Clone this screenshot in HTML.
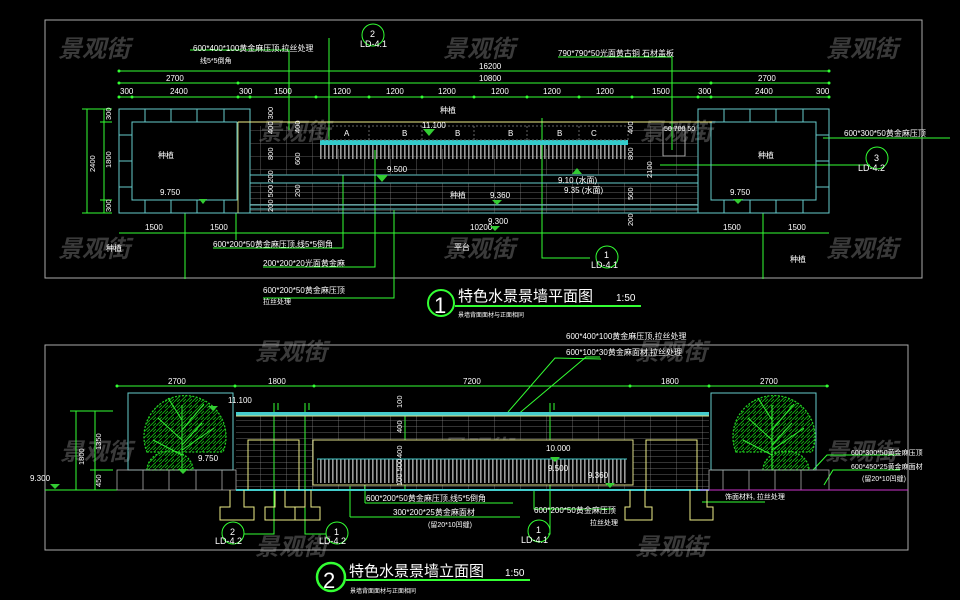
<!DOCTYPE html>
<html><head><meta charset="utf-8"><style>
html,body{margin:0;padding:0;background:#000;}
svg{display:block}
text{font-family:"Liberation Sans","Noto Sans CJK SC",sans-serif;}
</style></head><body>
<svg width="960" height="600" viewBox="0 0 960 600" xmlns="http://www.w3.org/2000/svg">
<defs>
<pattern id="gridA" x="0" y="0" width="26" height="13" patternUnits="userSpaceOnUse">
<path d="M0 0H26M0 0V13" stroke="#777" stroke-width="0.8" fill="none"/></pattern>
<pattern id="bars" x="0" y="0" width="4" height="20" patternUnits="userSpaceOnUse">
<rect x="0" y="0" width="1.6" height="20" fill="#999"/></pattern>
<pattern id="hstripes" x="0" y="0" width="26" height="6" patternUnits="userSpaceOnUse">
<path d="M0 0H26M0 0V6" stroke="#888" stroke-width="0.7" fill="none"/></pattern>
<pattern id="leaf" x="0" y="0" width="6" height="6" patternUnits="userSpaceOnUse">
<path d="M0 6L6 0M3 6L6 3" stroke="#1b1" stroke-width="0.8"/></pattern>
</defs>
<rect width="960" height="600" fill="#000"/>

<g fill="#3a3a3a" font-size="24" font-style="italic" font-weight="bold">
<text x="58" y="57">景观街</text><text x="443" y="57">景观街</text><text x="826" y="57">景观街</text>
<text x="58" y="257">景观街</text><text x="443" y="257">景观街</text><text x="826" y="257">景观街</text>
<text x="255" y="360">景观街</text><text x="635" y="360">景观街</text>
<text x="255" y="555">景观街</text><text x="635" y="555">景观街</text>
<text x="258" y="140">景观街</text><text x="640" y="140">景观街</text>
<text x="60" y="460">景观街</text><text x="825" y="460">景观街</text><text x="440" y="457">景观街</text>
</g>

<!-- ===== PLAN ===== -->
<rect x="45" y="20" width="877" height="258" fill="none" stroke="#aaa" stroke-width="1"/>
<g stroke="#3f3" stroke-width="1" fill="none">
<line x1="119" y1="71" x2="829" y2="71"/>
<line x1="119" y1="83" x2="829" y2="83"/>
<line x1="119" y1="97" x2="829" y2="97"/>
<line x1="119" y1="233" x2="829" y2="233"/>
<line x1="87" y1="109" x2="87" y2="213"/>
<line x1="104" y1="109" x2="104" y2="213"/>
<line x1="82" y1="109" x2="112" y2="109"/><line x1="82" y1="213" x2="112" y2="213"/>
<line x1="100" y1="122" x2="112" y2="122"/><line x1="100" y1="200" x2="112" y2="200"/>
<line x1="236" y1="213" x2="236" y2="240"/><line x1="185" y1="213" x2="185" y2="279"/>
<line x1="763" y1="213" x2="763" y2="279"/>
<polyline points="190,50 289,50 289,130"/>
<polyline points="329,38 329,140"/>
<polyline points="558,57 672,57 672,150"/>
<polyline points="213,248 343,248 343,175"/>
<polyline points="263,267 375,267 375,150"/>
<polyline points="263,298 394,298 394,210"/>
<polyline points="542,118 542,258 590,258"/>
<polyline points="823,138 950,138"/>
<polyline points="660,165 870,165"/>
</g>
<g fill="#3f3">
<circle cx="119" cy="71" r="1.5"/><circle cx="829" cy="71" r="1.5"/>
<circle cx="119" cy="83" r="1.5"/><circle cx="238" cy="83" r="1.5"/><circle cx="711" cy="83" r="1.5"/><circle cx="829" cy="83" r="1.5"/>
<circle cx="119" cy="97" r="1.5"/><circle cx="132" cy="97" r="1.5"/><circle cx="238" cy="97" r="1.5"/><circle cx="250" cy="97" r="1.5"/><circle cx="316" cy="97" r="1.5"/><circle cx="369" cy="97" r="1.5"/><circle cx="422" cy="97" r="1.5"/><circle cx="474" cy="97" r="1.5"/><circle cx="527" cy="97" r="1.5"/><circle cx="579" cy="97" r="1.5"/><circle cx="632" cy="97" r="1.5"/><circle cx="698" cy="97" r="1.5"/><circle cx="711" cy="97" r="1.5"/><circle cx="829" cy="97" r="1.5"/>
</g>
<g stroke="#6cc" stroke-width="1" fill="none">
<rect x="119" y="109" width="131" height="104"/><rect x="132" y="122" width="105" height="78"/>
<rect x="698" y="109" width="131" height="104"/><rect x="711" y="122" width="105" height="78"/>
<path d="M145 109V122M171 109V122M197 109V122M224 109V122M145 200V213M171 200V213M197 200V213M224 200V213M119 135H132M119 161H132M119 187H132"/>
<path d="M724 109V122M750 109V122M776 109V122M803 109V122M724 200V213M750 200V213M776 200V213M803 200V213M816 135H829M816 161H829M816 187H829"/>
<path d="M250 175H698M250 183H698M250 205H698M250 209H698M250 213H698"/>
</g>
<rect x="250" y="126" width="70" height="49" fill="url(#gridA)"/>
<rect x="628" y="126" width="70" height="49" fill="url(#gridA)"/>
<rect x="320" y="149" width="308" height="26" fill="url(#gridA)"/>
<rect x="250" y="183" width="448" height="30" fill="url(#hstripes)"/>
<line x1="238" y1="122" x2="712" y2="122" stroke="#ee8" stroke-width="1"/>
<line x1="238" y1="122" x2="238" y2="213" stroke="#ee8" stroke-width="0.8"/>
<rect x="320" y="140" width="308" height="5" fill="#3cc"/>
<rect x="320" y="145" width="308" height="14" fill="url(#bars)"/>
<rect x="320" y="126" width="308" height="14" fill="none" stroke="#666" stroke-dasharray="2,2"/>
<g stroke="#666" stroke-dasharray="2,2"><line x1="369" y1="126" x2="369" y2="140"/><line x1="422" y1="126" x2="422" y2="140"/><line x1="474" y1="126" x2="474" y2="140"/><line x1="527" y1="126" x2="527" y2="140"/><line x1="579" y1="126" x2="579" y2="140"/></g>
<rect x="663" y="128" width="22" height="28" fill="none" stroke="#aaa"/>
<g fill="#fff" font-size="8">
<text x="193" y="51">600*400*100黄金麻压顶,拉丝处理</text>
<text x="200" y="63" font-size="7">线5*5倒角</text>
<text x="558" y="56">790*790*50光面黄古铜 石材盖板</text>
<text x="479" y="69">16200</text><text x="479" y="81">10800</text>
<text x="166" y="81">2700</text><text x="758" y="81">2700</text>
<text x="120" y="94">300</text><text x="170" y="94">2400</text><text x="239" y="94">300</text><text x="274" y="94">1500</text>
<text x="333" y="94">1200</text><text x="386" y="94">1200</text><text x="438" y="94">1200</text><text x="491" y="94">1200</text><text x="543" y="94">1200</text><text x="596" y="94">1200</text>
<text x="652" y="94">1500</text><text x="698" y="94">300</text><text x="755" y="94">2400</text><text x="816" y="94">300</text>
<text x="145" y="230">1500</text><text x="210" y="230">1500</text><text x="470" y="230">10200</text><text x="723" y="230">1500</text><text x="788" y="230">1500</text>
<text x="422" y="128">11.100</text>
<text x="387" y="172">9.500</text><text x="160" y="195">9.750</text><text x="490" y="198">9.360</text><text x="488" y="224">9.300</text><text x="730" y="195">9.750</text>
<text x="558" y="183">9.10 (水面)</text><text x="564" y="193">9.35 (水面)</text>
<text x="344" y="136">A</text><text x="402" y="136">B</text><text x="455" y="136">B</text><text x="508" y="136">B</text><text x="557" y="136">B</text><text x="591" y="136">C</text>
<text x="213" y="247">600*200*50黄金麻压顶,线5*5倒角</text>
<text x="263" y="266">200*200*20光面黄金麻</text>
<text x="263" y="293">600*200*50黄金麻压顶</text>
<text x="263" y="304" font-size="7">拉丝处理</text>
<text x="844" y="136">600*300*50黄金麻压顶</text>
<text x="158" y="158">种植</text><text x="758" y="158">种植</text><text x="440" y="113">种植</text><text x="450" y="198">种植</text>
<text x="106" y="251">种植</text><text x="454" y="250">平台</text><text x="790" y="262">种植</text>
<text x="664" y="131" font-size="7">50 700 50</text>
</g>
<g fill="#fff" font-size="7.5">
<text transform="translate(95,172) rotate(-90)">2400</text>
<text transform="translate(111,168) rotate(-90)">1800</text>
<text transform="translate(111,120) rotate(-90)">300</text>
<text transform="translate(111,212) rotate(-90)">300</text>
<text transform="translate(273,134) rotate(-90)">400 300</text>
<text transform="translate(273,160) rotate(-90)">800</text>
<text transform="translate(273,212) rotate(-90)">200 500 200</text>
<text transform="translate(300,133) rotate(-90)">400</text>
<text transform="translate(300,165) rotate(-90)">600</text>
<text transform="translate(300,197) rotate(-90)">200</text>
<text transform="translate(633,134) rotate(-90)">400</text>
<text transform="translate(633,160) rotate(-90)">800</text>
<text transform="translate(633,200) rotate(-90)">500</text>
<text transform="translate(633,226) rotate(-90)">200</text>
<text transform="translate(652,178) rotate(-90)">2100</text>
</g>
<g fill="#3c3">
<path d="M199 199l8 0-4 5z"/><path d="M423 129l12 0-6 7z"/><path d="M376 175l12 0-6 7z"/><path d="M492 200l10 0-5 5z"/><path d="M490 226l10 0-5 5z"/><path d="M733 199l10 0-5 5z"/><path d="M572 174l10 0-5-6z"/>
</g>
<g stroke="#3f3" fill="none"><circle cx="373" cy="35" r="11"/><circle cx="607" cy="257" r="11"/><circle cx="877" cy="158" r="11"/></g>
<g fill="#fff" font-size="9"><text x="370" y="37">2</text><text x="360" y="47">LD-4.1</text><text x="604" y="258">1</text><text x="591" y="268">LD-4.1</text><text x="874" y="161">3</text><text x="858" y="171">LD-4.2</text></g>
<circle cx="441" cy="303" r="13" fill="none" stroke="#3f3" stroke-width="2"/>
<text x="434" y="313" fill="#fff" font-size="22">1</text>
<text x="458" y="301" fill="#fff" font-size="15">特色水景景墙平面图</text>
<text x="616" y="301" fill="#fff" font-size="10">1:50</text>
<line x1="455" y1="306" x2="641" y2="306" stroke="#3f3" stroke-width="2"/>
<text x="458" y="317" fill="#fff" font-size="6">景墙背面面材与正面相同</text>

<!-- ===== ELEVATION ===== -->
<rect x="45" y="345" width="863" height="205" fill="none" stroke="#aaa" stroke-width="1"/>
<g stroke="#3f3" fill="none" stroke-width="1">
<line x1="117" y1="386" x2="829" y2="386"/>
<line x1="76" y1="411" x2="76" y2="490"/><line x1="95" y1="411" x2="95" y2="490"/>
<line x1="70" y1="411" x2="113" y2="411"/><line x1="90" y1="470" x2="113" y2="470"/>
<line x1="45" y1="490" x2="117" y2="490"/>
<polyline points="274,403 274,534 244,534"/><polyline points="278,403 278,410"/>
<polyline points="305,403 305,534 326,534"/><polyline points="309,403 309,410"/>
<polyline points="550,403 550,534 548,534"/><polyline points="554,403 554,410"/>
<polyline points="601,359 555,358 508,412"/><polyline points="600,357 586,357 516,416"/>
<polyline points="365,503 365,480"/><polyline points="365,503 513,503"/>
<polyline points="350,517 350,486"/><polyline points="350,517 520,517"/>
<polyline points="534,490 534,509 613,509"/>
<polyline points="702,502 765,502"/>
<polyline points="813,470 827,455 900,455"/><polyline points="824,485 833,470 900,470"/>
<line x1="405" y1="412" x2="405" y2="490"/>
</g>
<g fill="#3f3"><circle cx="117" cy="386" r="1.5"/><circle cx="235" cy="386" r="1.5"/><circle cx="314" cy="386" r="1.5"/><circle cx="630" cy="386" r="1.5"/><circle cx="709" cy="386" r="1.5"/><circle cx="827" cy="386" r="1.5"/></g>
<rect x="128" y="393" width="105" height="77" fill="none" stroke="#6cc"/>
<rect x="711" y="393" width="105" height="77" fill="none" stroke="#6cc"/>
<g stroke="#2c2" stroke-width="1.3">
<path d="M147 452A41 41 0 1 1 223 452Z" fill="url(#leaf)" stroke-dasharray="2,1.5"/>
<path d="M147 470A23 19 0 0 1 193 470Z" fill="url(#leaf)" stroke-dasharray="2,1.5"/>
<path d="M736 452A41 41 0 1 1 812 452Z" fill="url(#leaf)" stroke-dasharray="2,1.5"/>
<path d="M763 470A23 19 0 0 1 809 470Z" fill="url(#leaf)" stroke-dasharray="2,1.5"/>
</g>
<g fill="none" stroke="#3e3" stroke-width="1">
<path d="M182 470V405M182 440L158 418M182 430L204 404M182 450L214 428M182 420L168 398M182 455L153 440M182 445L202 423"/>
<path d="M772 470V405M772 440L748 418M772 430L794 404M772 450L804 428M772 420L758 398M772 455L743 440M772 445L792 423"/>
</g>
<g stroke="#aaa" fill="none" stroke-width="0.8">
<rect x="117" y="470" width="119" height="20"/>
<path d="M143 470V490M169 470V490M196 470V490M222 470V490"/>
<rect x="709" y="470" width="120" height="20"/>
<path d="M723 470V490M749 470V490M775 470V490M801 470V490"/>
</g>
<rect x="236" y="414" width="473" height="76" fill="url(#hstripes)"/>
<rect x="236" y="412" width="473" height="4" fill="#4cc"/>
<line x1="236" y1="416" x2="709" y2="416" stroke="#dd8"/>
<rect x="313" y="440" width="320" height="45" fill="#000" stroke="#dd8"/>
<rect x="317" y="459" width="310" height="24" fill="url(#bars)"/>
<line x1="317" y1="459" x2="627" y2="459" stroke="#4cc"/>
<line x1="236" y1="490" x2="709" y2="490" stroke="#4cc" stroke-width="2"/>
<line x1="700" y1="490" x2="908" y2="490" stroke="#c3c" stroke-width="1"/>
<g stroke="#ee8" fill="none" stroke-width="1">
<polyline points="248,490 248,440 299,440 299,490"/>
<polyline points="646,490 646,440 697,440 697,490"/>
<path d="M230 490V507H220V520H254V507H244V490"/>
<path d="M275 490V507H265V520H295V507H285V490"/>
<path d="M305 490V507H295V520H320V507H311V490"/>
<path d="M630 490V507H625V520H652V507H645V490"/>
<path d="M690 490V507H690V520H713V507H707V490"/>
</g>
<g fill="#3c3"><path d="M208 406l10 0-5 5z"/><path d="M178 469l10 0-5 5z"/><path d="M50 484l10 0-5 5z"/><path d="M550 457l10 0-5 5z"/><path d="M605 483l10 0-5 5z"/></g>
<g fill="#fff" font-size="8">
<text x="168" y="384">2700</text><text x="268" y="384">1800</text><text x="463" y="384">7200</text><text x="661" y="384">1800</text><text x="760" y="384">2700</text>
<text x="228" y="403">11.100</text><text x="198" y="461">9.750</text><text x="30" y="481">9.300</text>
<text x="546" y="451">10.000</text><text x="548" y="471">9.500</text><text x="588" y="478">9.360</text>
<text x="566" y="339">600*400*100黄金麻压顶,拉丝处理</text>
<text x="566" y="355">600*100*30黄金麻面材,拉丝处理</text>
<text x="366" y="501">600*200*50黄金麻压顶,线5*5倒角</text>
<text x="393" y="515">300*200*25黄金麻面材</text>
<text x="428" y="527" font-size="7">(留20*10凹缝)</text>
<text x="534" y="513">600*200*50黄金麻压顶</text>
<text x="590" y="525" font-size="7">拉丝处理</text>
<text x="725" y="499" font-size="7">饰面材料, 拉丝处理</text>
<text x="851" y="455" font-size="7">600*300*50黄金麻压顶</text>
<text x="851" y="469" font-size="7">600*450*25黄金麻面材</text>
<text x="862" y="481" font-size="7">(留20*10凹缝)</text>
</g>
<g fill="#fff" font-size="7.5">
<text transform="translate(84,465) rotate(-90)">1800</text>
<text transform="translate(101,450) rotate(-90)">1350</text>
<text transform="translate(101,487) rotate(-90)">450</text>
<text transform="translate(402,408) rotate(-90)">100</text>
<text transform="translate(402,433) rotate(-90)">400</text>
<text transform="translate(402,458) rotate(-90)">400</text>
<text transform="translate(402,486) rotate(-90)">100 500</text>
</g>
<g stroke="#3f3" fill="none"><circle cx="233" cy="533" r="11"/><circle cx="337" cy="533" r="11"/><circle cx="539" cy="531" r="11"/></g>
<g fill="#fff" font-size="9"><text x="230" y="535">2</text><text x="215" y="544">LD-4.2</text><text x="334" y="535">1</text><text x="319" y="544">LD-4.2</text><text x="536" y="533">1</text><text x="521" y="543">LD-4.1</text></g>
<circle cx="331" cy="577" r="14" fill="none" stroke="#3f3" stroke-width="2.5"/>
<text x="323" y="588" fill="#fff" font-size="22">2</text>
<text x="349" y="576" fill="#fff" font-size="15">特色水景景墙立面图</text>
<text x="505" y="576" fill="#fff" font-size="10">1:50</text>
<line x1="346" y1="580" x2="530" y2="580" stroke="#3f3" stroke-width="2"/>
<text x="350" y="593" fill="#fff" font-size="6">景墙背面面材与正面相同</text>
</svg>
</body></html>
